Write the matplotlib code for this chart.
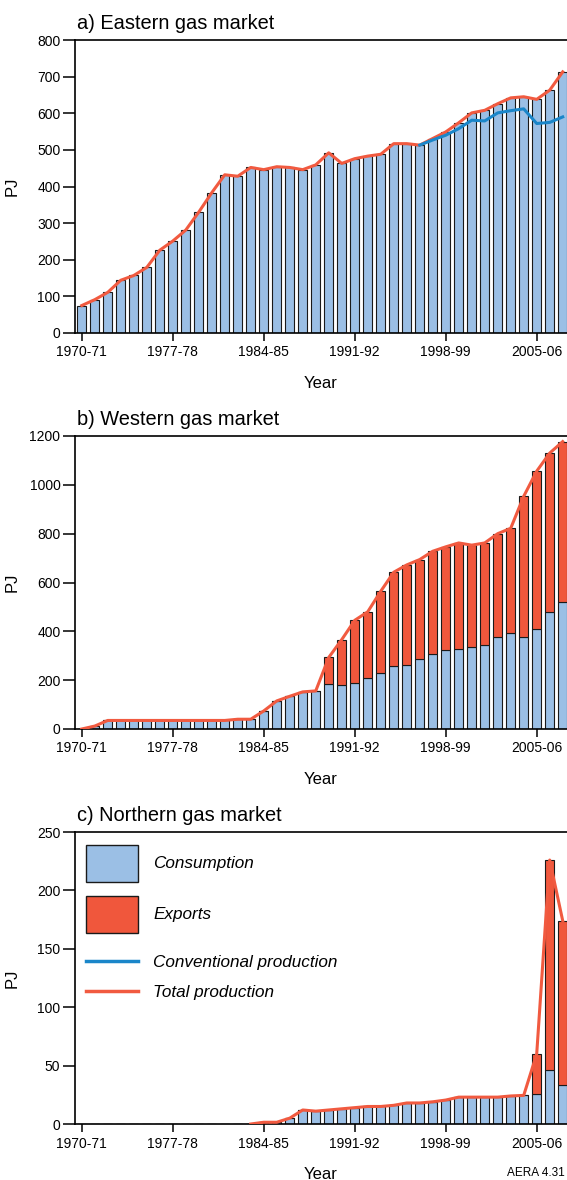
import numpy as np
import matplotlib
matplotlib.use('Agg')
import matplotlib.pyplot as plt
from matplotlib.patches import Patch
from matplotlib.lines import Line2D

plt.rcParams['font.family'] = ['Liberation Sans', 'DejaVu Sans']

years = ['1970-71', '1971-72', '1972-73', '1973-74', '1974-75', '1975-76', '1976-77',
         '1977-78', '1978-79', '1979-80', '1980-81', '1981-82', '1982-83', '1983-84',
         '1984-85', '1985-86', '1986-87', '1987-88', '1988-89', '1989-90', '1990-91',
         '1991-92', '1992-93', '1993-94', '1994-95', '1995-96', '1996-97', '1997-98',
         '1998-99', '1999-00', '2000-01', '2001-02', '2002-03', '2003-04', '2004-05',
         '2005-06', '2006-07', '2007-08']
tick_labels = ['1970-71', '1977-78', '1984-85', '1991-92', '1998-99', '2005-06']

# a) eastern market (PJ)
east_cons = [75, 91, 111, 144, 157, 179, 226, 251, 281, 330, 383, 432, 428, 452, 446,
             454, 452, 446, 459, 492, 463, 476, 483, 488, 517, 517, 513, 531, 549, 574,
             601, 608, 626, 642, 645, 638, 663, 713]
east_total = [75, 91, 111, 144, 157, 179, 226, 251, 281, 330, 383, 432, 428, 452, 446,
              454, 452, 446, 459, 492, 463, 476, 483, 488, 517, 517, 513, 531, 549, 574,
              601, 608, 626, 642, 645, 638, 663, 713]
east_conv = [None] * 26 + [513, 527, 540, 558, 581, 579, 601, 607, 612, 572, 575, 590]

# b) western market
west_cons = [0, 12, 35, 35, 35, 35, 35, 35, 35, 35, 35, 35, 40, 40, 74, 115, 134, 152,
             156, 186, 179, 190, 209, 231, 258, 264, 287, 309, 322, 326, 337, 343, 377,
             395, 377, 410, 480, 519]
west_total = [0, 12, 35, 35, 35, 35, 35, 35, 35, 35, 35, 35, 40, 40, 74, 115, 134, 152,
              156, 293, 366, 445, 480, 564, 642, 672, 694, 728, 746, 762, 753, 762, 800,
              822, 953, 1056, 1130, 1177]

# c) northern market
north_cons = [None] * 13 + [0, 1.5, 1.5, 5, 12, 11, 12, 13, 14, 15, 15, 16, 18, 18, 19,
                            20.5, 23, 23, 23, 23, 24, 24.5, 26, 46, 33]
north_total = [None] * 13 + [0, 1.5, 1.5, 5, 12, 11, 12, 13, 14, 15, 15, 16, 18, 18, 19,
                             20.5, 23, 23, 23, 23, 24, 24.5, 60, 226, 174]

BLUE = '#9bbfe5'
RED = '#f0573c'
LINE_RED = '#f15a40'
LINE_BLUE = '#1a86c9'

W = 567
H = 1180
fig = plt.figure(figsize=(W / 100, H / 100), dpi=100)


def make_ax(top_px, bottom_px):
    ax = fig.add_axes([75 / W, 1 - bottom_px / H, 492 / W, (bottom_px - top_px) / H])
    return ax


def style(ax, ymax, ystep, title):
    x = np.arange(len(years))
    ax.set_xlim(-0.52, 37.33)
    ax.set_ylim(0, ymax)
    ax.set_yticks(np.arange(0, ymax + 1, ystep))
    ax.set_xticks([years.index(t) for t in tick_labels])
    ax.set_xticklabels(tick_labels)
    ax.spines['right'].set_visible(False)
    for s in ['left', 'bottom', 'top']:
        ax.spines[s].set_linewidth(1.2)
    ax.tick_params(axis='y', direction='out', length=8.5, width=1.1, labelsize=10, pad=2)
    ax.tick_params(axis='x', direction='out', length=6, width=1.1, labelsize=10, pad=3)
    ax.set_xlabel('Year', fontsize=12, labelpad=12)
    ax.set_ylabel('PJ', fontsize=12)
    ax.yaxis.set_label_coords(-0.112, 0.5)
    ax.text(0.004, 1.025, title, transform=ax.transAxes, fontsize=14.4,
            ha='left', va='bottom')
    return x


bw = 0.66

# panel a
ax1 = make_ax(40, 333)
x = style(ax1, 800, 100, 'a) Eastern gas market')
ax1.bar(x, east_cons, width=bw, color=BLUE, edgecolor='#1a1a1a', linewidth=0.8)
ax1.plot(x, east_total, color=LINE_RED, lw=2.2, zorder=3)
ax1.plot(x, np.array(east_conv, dtype=float), color=LINE_BLUE, lw=2.2, zorder=4)

# panel b
ax2 = make_ax(436, 729)
x = style(ax2, 1200, 200, 'b) Western gas market')
west_exp = np.array(west_total) - np.array(west_cons)
ax2.bar(x, west_cons, width=bw, color=BLUE, edgecolor='#1a1a1a', linewidth=0.8)
ax2.bar(x, west_exp, bottom=west_cons, width=bw, color=RED, edgecolor='#1a1a1a',
        linewidth=0.8)
ax2.plot(x, west_total, color=LINE_RED, lw=2.2, zorder=3)

# panel c
ax3 = make_ax(832, 1124)
x = style(ax3, 250, 50, 'c) Northern gas market')
nc = np.array(north_cons, dtype=float)
nt = np.array(north_total, dtype=float)
ax3.bar(x, np.nan_to_num(nc), width=bw, color=BLUE, edgecolor='#1a1a1a', linewidth=0.8)
ax3.bar(x, np.nan_to_num(nt - nc), bottom=np.nan_to_num(nc), width=bw, color=RED,
        edgecolor='#1a1a1a', linewidth=0.8)
ax3.plot(x, nt, color=LINE_RED, lw=2.2, zorder=3)

leg1 = ax3.legend(handles=[Patch(facecolor=BLUE, edgecolor='#1a1a1a', label='Consumption'),
                           Patch(facecolor=RED, edgecolor='#1a1a1a', label='Exports')],
                  loc='center left', bbox_to_anchor=(0.0224, 0.806), frameon=False,
                  borderpad=0, borderaxespad=0, handlelength=3.04, handleheight=2.95,
                  labelspacing=0.82, handletextpad=0.88,
                  prop={'style': 'italic', 'size': 12.3})
ax3.add_artist(leg1)
ax3.legend(handles=[Line2D([], [], color=LINE_BLUE, lw=2.5, label='Conventional production'),
                    Line2D([], [], color=LINE_RED, lw=2.5, label='Total production')],
           loc='center left', bbox_to_anchor=(0.0224, 0.502), frameon=False,
           borderpad=0, borderaxespad=0, handlelength=3.04, handleheight=0.7,
           labelspacing=0.85, handletextpad=0.88,
           prop={'style': 'italic', 'size': 12.3})

fig.text(507 / W, 1 - 1173 / H, 'AERA 4.31', fontsize=8.5, ha='left', va='center')

fig.savefig('out.png', dpi=100)
